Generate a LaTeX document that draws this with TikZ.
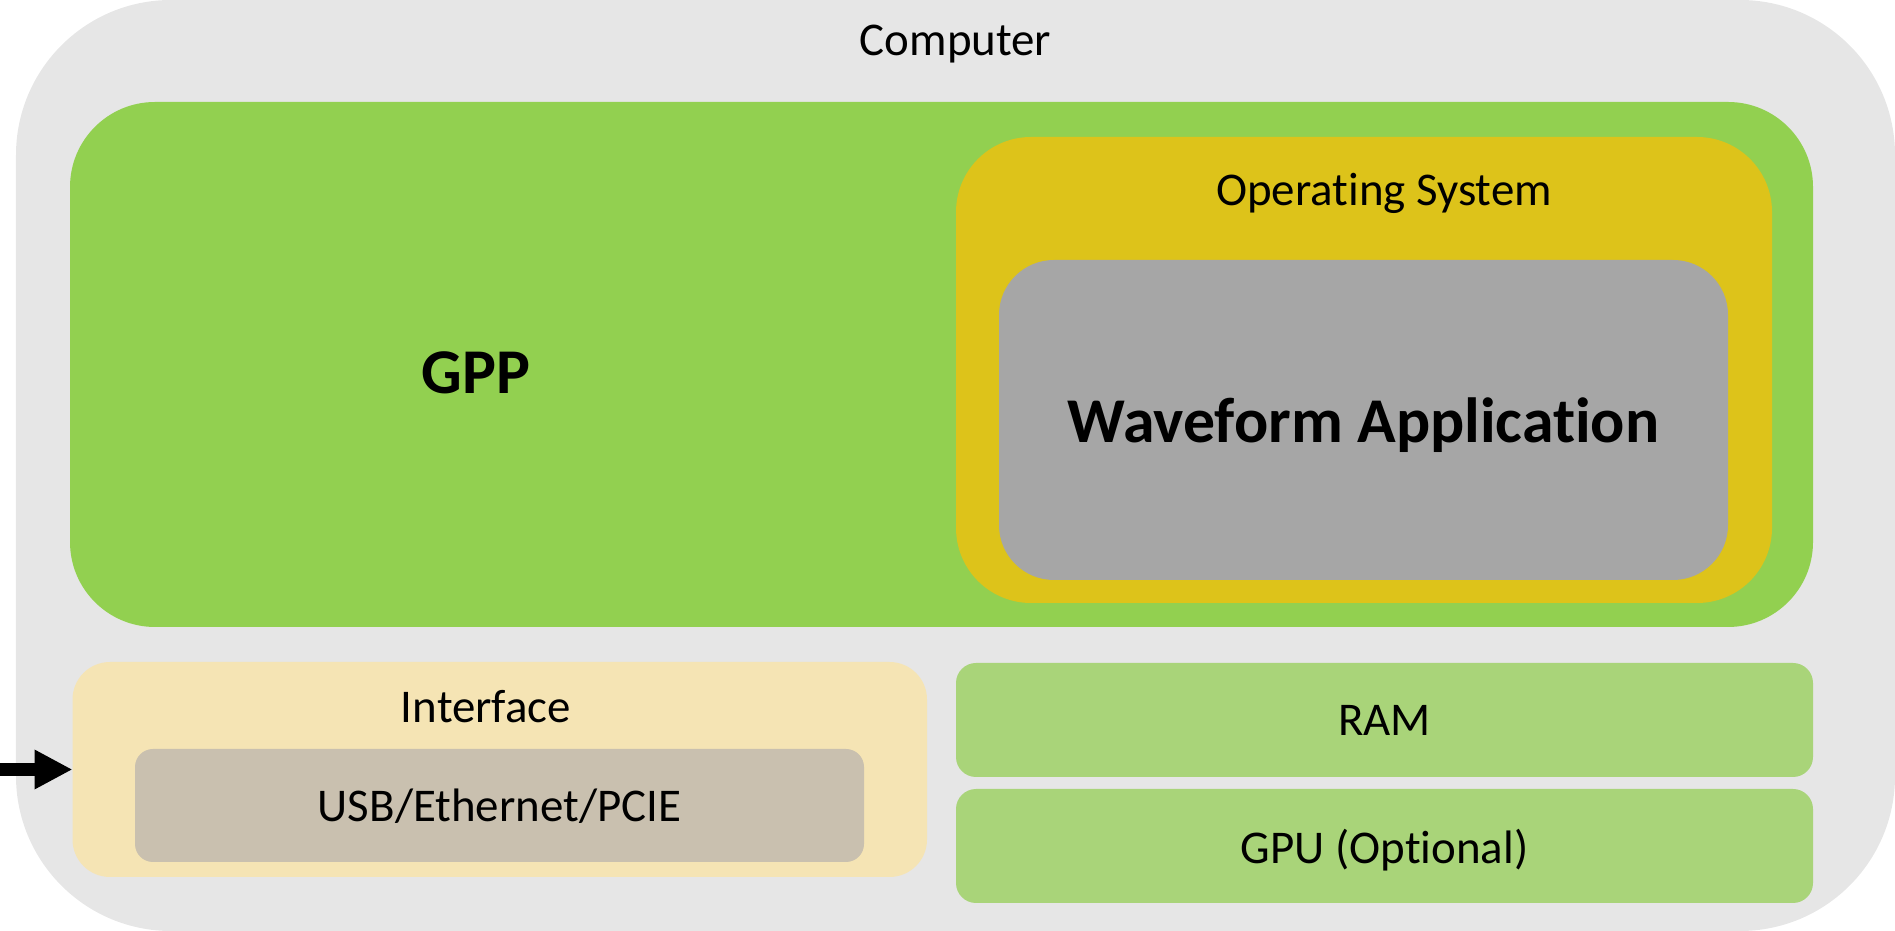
\documentclass[tikz,border=0pt]{standalone}
\usepackage{fontspec}
\setmainfont{Carlito}
\usepackage{xcolor}
\usepackage{tikz}
\usetikzlibrary{arrows.meta}

\definecolor{computergray}{HTML}{E6E6E6}
\definecolor{gppgreen}{HTML}{92D050}
\definecolor{osyellow}{HTML}{DDC31A}
\definecolor{appgray}{HTML}{A6A6A6}
\definecolor{ifacecream}{HTML}{F5E4B4}
\definecolor{portbeige}{HTML}{C9C0AF}
\definecolor{memgreen}{HTML}{A9D479}

\newcommand{\plainsize}{\fontsize{26.7}{32}\selectfont}
\newcommand{\boldsize}{\fontsize{36.3}{43}\selectfont\bfseries}
\newcommand{\nolig}{\kern0pt}

\begin{document}
\begin{tikzpicture}[
	block/.style={rectangle, inner sep=0pt, outer sep=0pt, text depth=0pt, font=\plainsize},
	label/.style={inner sep=0pt, text depth=0pt, font=\plainsize}
	]
	\useasboundingbox (0, 0) rectangle (37.9, 18.62);
	% Boxes:
	\node[block, fill=computergray, rounded corners=3.1cm, minimum width=37.58cm, minimum height=18.62cm](computer) at (19.11, 9.31){};
	\node[block, fill=gppgreen, rounded corners=1.7cm, minimum width=34.86cm, minimum height=10.5cm](gpp) at (18.83, 11.33){};
	\node[block, fill=osyellow, rounded corners=1.5cm, minimum width=16.32cm, minimum height=9.32cm](os) at (27.28, 11.22){};
	\node[block, fill=appgray, rounded corners=1.1cm, minimum width=14.58cm, minimum height=6.4cm, font=\boldsize](app) at (27.27, 10.22){Waveform Applicat\nolig ion};
	\node[block, fill=ifacecream, rounded corners=0.75cm, minimum width=17.09cm, minimum height=4.3cm](iface) at (9.995, 3.23){};
	\node[block, fill=portbeige, rounded corners=0.36cm, minimum width=14.58cm, minimum height=2.26cm](port) at (9.99, 2.51){USB/Ethernet/PCIE};
	\node[block, fill=memgreen, rounded corners=0.4cm, minimum width=17.14cm, minimum height=2.28cm](ram) at (27.69, 4.22){RAM};
	\node[block, fill=memgreen, rounded corners=0.4cm, minimum width=17.14cm, minimum height=2.28cm](gpu) at (27.69, 1.70){GPU (Opt\nolig ional)};
	% Labels:
	\node[label](computerlabel) at (19.11, 17.81){Computer};
	\node[label, font=\boldsize](gpplabel) at (9.52, 11.17){GPP};
	\node[label](oslabel) at (27.68, 14.84){Operat\nolig ing System};
	\node[label](ifacelabel) at (9.72, 4.5){Interface};
	% Input arrow:
	\coordinate (input) at (0, 3.23);
	\draw[line width=0.26cm, -{Triangle[length=0.76cm, width=0.74cm]}] (input) -- (iface.west);
\end{tikzpicture}
\end{document}
